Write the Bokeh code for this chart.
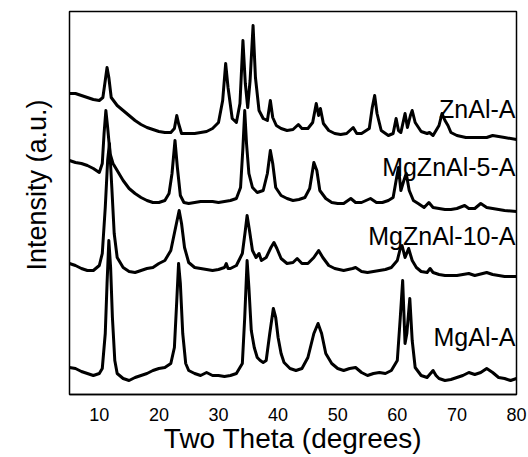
from bokeh.plotting import figure
from bokeh.models import Range1d, SingleIntervalTicker, Title, ColumnDataSource
from bokeh.core.properties import value
from bokeh.embed import file_html
from bokeh.resources import INLINE

# ---------------- data ----------------
# MgAl-A (bottom pattern)
tt_mgal = [5, 6, 7, 8, 9, 10, 10.5, 11, 11.3, 11.6, 11.9, 12.2, 12.6, 13, 14, 15, 16, 17, 18, 19,
           20, 21, 22, 22.6, 23, 23.3, 23.6, 24, 24.5, 25, 26, 27, 28, 29, 30, 31, 32, 33, 34, 34.4,
           34.8, 35.1, 35.5, 36, 36.5, 37, 37.5, 38, 38.6, 39.2, 39.6, 40, 40.5, 41, 42, 43, 44, 45,
           46, 46.7, 47.3, 48, 49, 50, 51, 52, 53, 54, 55, 56, 57, 58, 59, 60, 60.5, 60.9, 61.3,
           61.6, 62.1, 62.5, 63, 64, 65, 66, 66.5, 67, 68, 69, 70, 71, 72, 73, 74, 75, 76, 77, 78,
           79, 80]
int_mgal = [27, 26, 23, 21, 19, 21, 26, 61, 111, 154, 127, 77, 34, 21, 16, 14, 17, 19, 21, 24,
            26, 27, 31, 47, 94, 131, 111, 61, 31, 24, 21, 19, 22, 19, 19, 18, 19, 21, 31, 77,
            134, 107, 64, 47, 37, 34, 32, 34, 61, 86, 77, 57, 41, 32, 26, 24, 26, 37,
            61, 71, 61, 41, 31, 26, 24, 26, 27, 22, 19, 21, 22, 21, 24, 34, 77, 114, 51,
            61, 96, 54, 27, 19, 17, 24, 19, 16, 14, 15, 17, 19, 22, 20, 22, 26, 22, 17, 16,
            14, 16]

# MgZnAl-10-A
tt_mza10 = [5, 6, 7, 8, 9, 10, 10.5, 11, 11.4, 11.7, 12.1, 12.5, 13, 14, 15, 16, 17, 18, 19, 20,
            21, 22, 22.8, 23.4, 23.8, 24.3, 25, 26, 27, 28, 29, 30, 31, 31.3, 31.6, 32, 33, 34,
            34.5, 34.8, 35.2, 35.7, 36.3, 36.8, 37.2, 38, 38.8, 39.3, 39.8, 40.5, 41.5, 42.5,
            43.2, 44, 45, 46, 46.8, 47.5, 48.5, 49.5, 51, 52.5, 53, 54, 55, 56, 57, 58, 59, 60,
            60.5, 60.8, 61.3, 61.9, 62.5, 63.2, 64, 65, 65.5, 66, 67, 68, 70, 72, 73, 75, 76, 78, 80]
int_mza10 = [131, 129, 126, 124, 124, 129, 141, 187, 234, 251, 207, 161, 137, 127, 123, 122, 124,
             126, 127, 131, 134, 144, 167, 184, 171, 147, 132, 127, 126, 125, 124, 125, 127, 131,
             126, 126, 129, 141, 164, 179, 164, 144, 137, 141, 134, 137, 147, 152, 146, 136, 131,
             132, 136, 131, 131, 137, 144, 137, 129, 126, 124, 126, 127, 123, 122, 123, 124, 125,
             127, 134, 146, 149, 137, 146, 134, 127, 123, 122, 126, 122, 120, 119, 119, 121, 119,
             122, 120, 118, 118]

# MgZnAl-5-A
tt_mza5 = [5, 6, 7, 8, 9, 10, 10.5, 10.8, 11.1, 11.4, 11.8, 12.3, 13, 14, 15, 16, 17, 18, 19, 20,
           21, 21.7, 22.2, 22.7, 23.1, 23.6, 24.2, 25, 26, 27, 28, 29, 30, 31, 32, 33, 33.7, 34.1,
           34.4, 34.7, 35.1, 35.7, 36.5, 37.5, 38.2, 38.7, 39.1, 39.6, 40.5, 41.5, 42.5, 43.5,
           44.5, 45.3, 46, 46.5, 47, 48, 49, 50, 51, 52.2, 53, 54, 55.5, 56.5, 57.5, 58.5, 59.3,
           59.8, 60.2, 60.6, 61.1, 61.5, 62, 62.7, 63.5, 64.5, 65.3, 66, 67, 68, 69, 70, 71.3,
           72, 73, 74, 75, 76, 78, 80]
int_mza5 = [234, 232, 231, 229, 226, 222, 231, 261, 284, 267, 241, 231, 224, 214, 206, 201, 197,
            194, 192, 192, 194, 201, 221, 254, 227, 199, 192, 191, 192, 193, 193, 193, 192, 193,
            194, 196, 207, 247, 284, 251, 221, 207, 202, 204, 221, 244, 231, 207, 199, 196, 194,
            195, 197, 206, 232, 224, 204, 196, 192, 191, 191, 196, 192, 192, 196, 192, 192, 194,
            197, 214, 227, 204, 214, 221, 204, 194, 191, 187, 192, 187, 186, 185, 185, 186, 189,
            186, 186, 191, 187, 186, 184, 183]

# ZnAl-A (top pattern)
tt_znal = [5, 6, 7, 8, 9, 10, 10.6, 11, 11.3, 11.6, 12, 13, 14, 15, 16, 17, 18, 19, 20, 21, 22,
           22.6, 23, 23.3, 23.8, 25, 26, 27, 28, 29, 30, 30.7, 31.2, 31.6, 32.3, 33, 33.6, 34.1,
           34.5, 34.9, 35.3, 35.8, 36.2, 36.8, 37.5, 38.2, 38.7, 39.1, 39.7, 40.5, 41.5, 42.5,
           43.4, 44, 45, 45.8, 46.4, 46.8, 47.1, 47.6, 48.5, 49.5, 50.5, 51.5, 52.6, 53.2, 54,
           55.3, 55.8, 56.2, 56.6, 57.3, 58.5, 59.3, 59.8, 60.2, 60.6, 61.3, 61.7, 62.2, 62.5,
           63, 64, 65, 65.4, 66, 67, 67.5, 68, 68.5, 69, 70, 71.5, 73, 75, 76, 78, 80]
int_znal = [301, 301, 299, 297, 295, 294, 297, 314, 327, 317, 297, 289, 284, 279, 274, 270, 267,
            265, 263, 262, 262, 266, 279, 271, 261, 261, 261, 262, 263, 266, 272, 294, 331, 307,
            276, 272, 291, 354, 311, 287, 314, 369, 317, 284, 276, 274, 294, 277, 269, 266, 264,
            265, 270, 266, 266, 272, 291, 279, 286, 271, 264, 261, 260, 261, 267, 261, 261, 266,
            287, 299, 281, 264, 259, 261, 276, 264, 262, 281, 267, 279, 284, 272, 263, 261, 262,
            259, 269, 281, 274, 269, 262, 259, 257, 257, 257, 259, 257, 255]

series_names = ["ZnAl-A", "MgZnAl-5-A", "MgZnAl-10-A", "MgAl-A"]
label_x = [80, 80, 80, 80]
label_y = [285.7, 228, 159, 58]

x_ticks_interval = 10

# ---------------- figure ----------------
p = figure(width=528, height=457, output_backend="svg", toolbar_location=None,
           x_range=Range1d(5, 80), y_range=Range1d(0, 383),
           min_border_left=69, min_border_right=12, min_border_top=11, min_border_bottom=63)

p.background_fill_color = "white"
p.border_fill_color = "white"
p.grid.visible = False
p.outline_line_color = "black"
p.outline_line_width = 1.5
p.outline_line_alpha = 1.0

for xs, ys in [(tt_mgal, int_mgal), (tt_mza10, int_mza10), (tt_mza5, int_mza5), (tt_znal, int_znal)]:
    p.line(xs, ys, line_color="black", line_width=3, line_join="round")

src = ColumnDataSource(dict(x=label_x, y=label_y, t=series_names))
p.text(x="x", y="y", text="t", source=src, text_align="right", text_baseline="alphabetic",
       text_font=value("Liberation Sans"), text_font_size="25px", text_color="black", x_offset=-1)

p.xaxis.ticker = SingleIntervalTicker(interval=x_ticks_interval, num_minor_ticks=2)
p.xaxis.axis_label = "Two Theta (degrees)"
p.xaxis.axis_label_text_font = "Liberation Sans"
p.xaxis.axis_label_text_font_style = "normal"
p.xaxis.axis_label_text_font_size = "28px"
p.xaxis.axis_label_text_color = "black"
p.xaxis.axis_label_standoff = -1
p.xaxis.major_label_text_font = "Liberation Sans"
p.xaxis.major_label_text_font_size = "18px"
p.xaxis.major_label_text_color = "black"
p.xaxis.major_label_standoff = 5
p.xaxis.major_tick_out = 8
p.xaxis.major_tick_in = -8
p.xaxis.minor_tick_out = 4
p.xaxis.minor_tick_in = -4
p.xaxis.axis_line_width = 1.5
p.xaxis.axis_line_color = "black"
p.xaxis.major_tick_line_width = 2
p.xaxis.minor_tick_line_width = 2
p.xaxis.major_tick_line_color = "black"
p.xaxis.minor_tick_line_color = "black"

p.yaxis.visible = False

ylab = Title(text="Intensity (a.u.)", align="left", offset=124,
             text_font="Liberation Sans", text_font_size="27px", text_font_style="normal",
             text_color="black", standoff=36)
p.add_layout(ylab, "left")

open("out.html", "w").write(file_html(p, INLINE))
